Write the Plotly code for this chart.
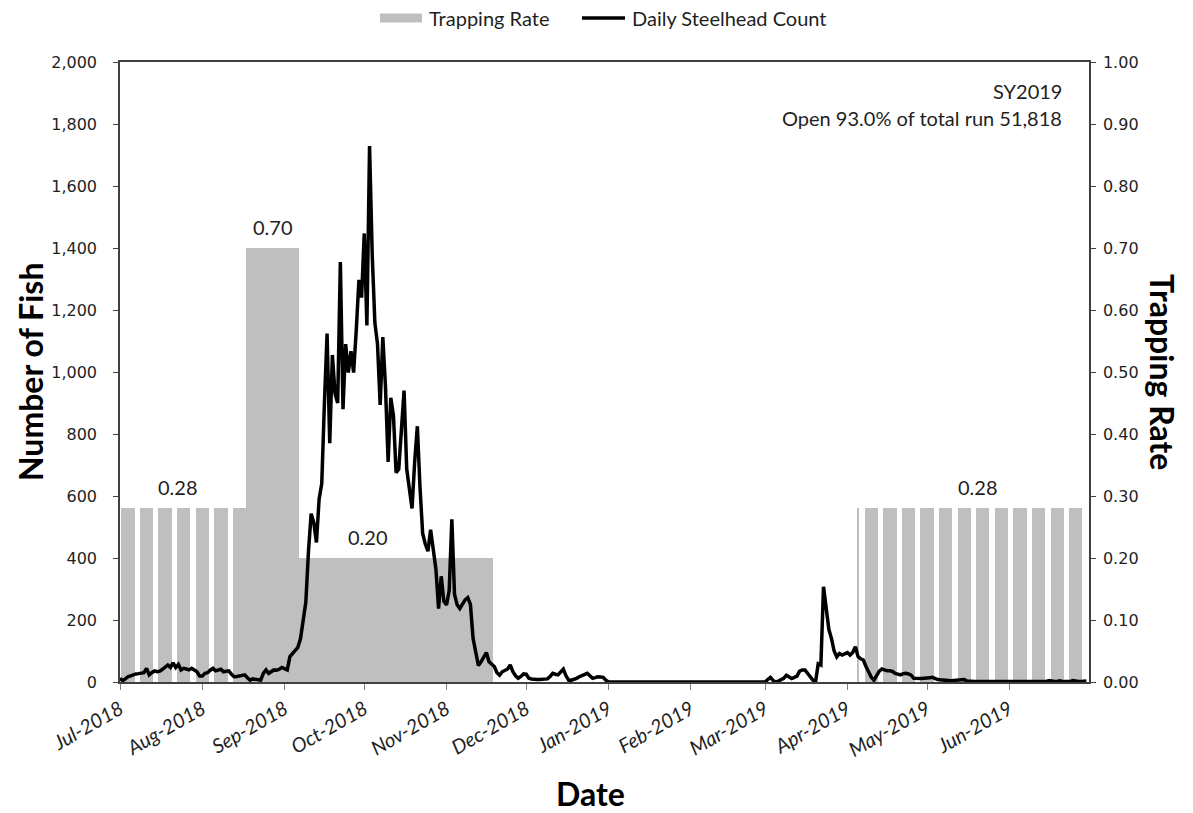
import pandas as pd
import plotly.graph_objects as go

# Daily steelhead counts, one value per day from 1 Jul 2018 to 30 Jun 2019
count_start = "2018-07-01"
count_jul_2018 = [12, 4, 10, 17, 20, 24, 26, 27, 28, 30, 44, 23, 30, 36, 33, 35, 41, 48, 55, 47,
                  62, 47, 57, 39, 44, 42, 39, 44, 40, 33, 19]
count_aug_2018 = [19, 28, 30, 38, 44, 36, 38, 41, 33, 35, 36, 25, 17, 18, 19, 21, 23, 14, 6, 10,
                  9, 7, 6, 28, 39, 28, 33, 39, 38, 41, 47]
count_sep_2018 = [42, 39, 82, 92, 103, 112, 140, 200, 258, 422, 543, 514, 450, 590, 640, 900, 1124,
                  770, 1055, 930, 900, 1355, 880, 1090, 998, 1067, 998, 1136, 1297, 1240]
count_oct_2018 = [1447, 1150, 1729, 1380, 1159, 1090, 894, 1113, 952, 710, 917, 860, 675, 687, 802,
                  940, 687, 629, 560, 710, 825, 629, 479, 445, 422, 491, 422, 364, 237, 341, 260]
count_nov_2018 = [249, 295, 525, 283, 249, 237, 249, 265, 272, 250, 140, 99, 53, 65, 80, 95, 65, 58,
                  50, 30, 22, 33, 38, 42, 55, 33, 20, 12, 18, 26]
count_dec_2018 = [25, 12, 10, 8, 8, 8, 8, 8, 10, 18, 28, 25, 23, 32, 41, 20, 6, 6, 8, 12, 17, 20, 24,
                  28, 20, 12, 14, 17, 16, 15, 6]
count_jan_2019 = [0, 0, 0, 0, 0, 0, 0, 0, 0, 0, 0, 0, 0, 0, 0, 0, 0, 0, 0, 0, 0, 0, 0, 0, 0, 0, 0, 0,
                  0, 0, 0]
count_feb_2019 = [0, 0, 0, 0, 0, 0, 0, 0, 0, 0, 0, 0, 0, 0, 0, 0, 0, 0, 0, 0, 0, 0, 0, 0, 0, 0, 0, 0]
count_mar_2019 = [0, 8, 15, 5, 0, 3, 8, 12, 22, 15, 11, 15, 19, 35, 39, 39, 30, 17, 6, 0, 59, 55, 307,
                  242, 170, 140, 100, 81, 92, 87, 92]
count_apr_2019 = [95, 87, 95, 114, 82, 75, 71, 50, 33, 15, 6, 23, 35, 42, 38, 36, 36, 34, 28, 26, 23,
                  27, 28, 26, 22, 12, 11, 10, 11, 12]
count_may_2019 = [12, 14, 15, 10, 8, 7, 6, 5, 4, 4, 5, 6, 5, 6, 8, 3, 2, 2, 2, 2, 2, 2, 2, 2, 2, 2, 2,
                  2, 2, 2, 2]
count_jun_2019 = [2, 2, 2, 2, 2, 2, 2, 2, 2, 2, 2, 2, 2, 2, 2, 5, 3, 2, 2, 4, 2, 2, 2, 2, 5, 3, 2, 2,
                  3, 3]

# Trap operating periods (inclusive) and the trapping rate applied in each
rate_start = ["2018-07-02", "2018-07-09", "2018-07-16", "2018-07-23", "2018-07-30", "2018-08-06",
              "2018-08-13", "2018-08-18", "2018-09-07",
              "2019-04-05", "2019-04-08", "2019-04-15", "2019-04-22", "2019-04-29", "2019-05-06",
              "2019-05-13", "2019-05-20", "2019-05-27", "2019-06-03", "2019-06-10", "2019-06-17",
              "2019-06-24"]
rate_end = ["2018-07-06", "2018-07-13", "2018-07-20", "2018-07-27", "2018-08-03", "2018-08-10",
            "2018-08-17", "2018-09-06", "2018-11-18",
            "2019-04-05", "2019-04-12", "2019-04-19", "2019-04-26", "2019-05-03", "2019-05-10",
            "2019-05-17", "2019-05-24", "2019-05-31", "2019-06-07", "2019-06-14", "2019-06-21",
            "2019-06-28"]
rate_value = [0.28, 0.28, 0.28, 0.28, 0.28, 0.28, 0.28, 0.70, 0.20,
              0.28, 0.28, 0.28, 0.28, 0.28, 0.28, 0.28, 0.28, 0.28, 0.28, 0.28, 0.28, 0.28]

month_labels = ["Jul-2018", "Aug-2018", "Sep-2018", "Oct-2018", "Nov-2018", "Dec-2018",
                "Jan-2019", "Feb-2019", "Mar-2019", "Apr-2019", "May-2019", "Jun-2019"]

season_label = "SY2019"
run_label = "Open 93.0% of total run 51,818"

# ---------------------------------------------------------------------------
daily_count = (count_jul_2018 + count_aug_2018 + count_sep_2018 + count_oct_2018 +
               count_nov_2018 + count_dec_2018 + count_jan_2019 + count_feb_2019 +
               count_mar_2019 + count_apr_2019 + count_may_2019 + count_jun_2019)
count_dates = pd.date_range(count_start, periods=len(daily_count), freq="D")

seg_start = pd.to_datetime(rate_start)
seg_end = pd.to_datetime(rate_end)
seg_mid = seg_start + (seg_end - seg_start) / 2
seg_width = [((e - s) + pd.Timedelta(days=1)).total_seconds() * 1000.0
             for s, e in zip(seg_start, seg_end)]

month_ticks = pd.date_range(count_start, periods=len(month_labels), freq="MS")

FONT = "Lato, 'Open Sans', sans-serif"
NUM_FONT = "'DejaVu Sans', Verdana, sans-serif"
TEXT = "#1f1f1f"
AXIS = "#404040"
BAR = "#bfbfbf"

# plot-area geometry in pixels (used to place the legend and titles)
W, H = 1193, 813
L, R, T, B = 120, 104, 62, 131
PW, PH = W - L - R, H - T - B


def px(xpix):
    return (xpix - L) / PW


def py(ypix):
    return (H - B - ypix) / PH


fig = go.Figure()

fig.add_trace(go.Bar(x=seg_mid, y=rate_value, width=seg_width, yaxis="y",
                     marker=dict(color=BAR, line=dict(width=0)),
                     name="Trapping Rate"))

fig.add_trace(go.Scatter(x=count_dates, y=daily_count, mode="lines", yaxis="y2",
                         name="Daily Steelhead Count",
                         line=dict(color="black", width=3.5)))

annotations = []
shapes = []

# rate labels above the bars
label_spots = [("2018-07-23 00:00", 0), ("2018-08-27 12:00", 7), ("2018-10-02 14:00", 8),
               ("2019-05-20 08:00", 14)]
for when, i in label_spots:
    annotations.append(dict(x=when, y=rate_value[i], xref="x", yref="y",
                            text=f"{rate_value[i]:.2f}", showarrow=False,
                            yanchor="middle", yshift=21,
                            font=dict(family=FONT, size=20, color=TEXT)))

# legend across the top
shapes.append(dict(type="rect", xref="paper", yref="paper",
                   x0=px(380), x1=px(422), y0=py(22.5), y1=py(13.5),
                   fillcolor=BAR, line=dict(width=0)))
shapes.append(dict(type="line", xref="paper", yref="paper",
                   x0=px(582), x1=px(625), y0=py(18), y1=py(18),
                   line=dict(color="black", width=3.5)))
annotations.append(dict(x=px(427), y=py(18), xref="paper", yref="paper", text="Trapping Rate",
                        showarrow=False, xanchor="left", yanchor="middle",
                        font=dict(family=FONT, size=20, color=TEXT)))
annotations.append(dict(x=px(630), y=py(18), xref="paper", yref="paper",
                        text="Daily Steelhead Count",
                        showarrow=False, xanchor="left", yanchor="middle",
                        font=dict(family=FONT, size=20, color=TEXT)))

# run summary, top right
annotations.append(dict(x=px(1064), y=py(91), xref="paper", yref="paper", text=season_label,
                        showarrow=False, xanchor="right", yanchor="middle",
                        font=dict(family=FONT, size=20, color=TEXT)))
annotations.append(dict(x=px(1064), y=py(118), xref="paper", yref="paper", text=run_label,
                        showarrow=False, xanchor="right", yanchor="middle",
                        font=dict(family=FONT, size=20, color=TEXT)))

# axis titles
annotations.append(dict(x=px(30), y=0.5, xref="paper", yref="paper", text="<b>Number of Fish</b>",
                        showarrow=False, textangle=-90, xanchor="center", yanchor="middle",
                        font=dict(family=FONT, size=32, color="black")))
annotations.append(dict(x=px(1163), y=0.5, xref="paper", yref="paper", text="<b>Trapping Rate</b>",
                        showarrow=False, textangle=90, xanchor="center", yanchor="middle",
                        font=dict(family=FONT, size=32, color="black")))
annotations.append(dict(x=px(590), y=py(793), xref="paper", yref="paper", text="<b>Date</b>",
                        showarrow=False, xanchor="center", yanchor="middle",
                        font=dict(family=FONT, size=32, color="black")))

fig.update_layout(
    width=W, height=H,
    margin=dict(l=L, r=R, t=T, b=B),
    paper_bgcolor="white", plot_bgcolor="white",
    showlegend=False,
    xaxis=dict(type="date", range=["2018-07-01", "2019-07-01"],
               tickvals=list(month_ticks), ticktext=month_labels, tickangle=-30,
               tickfont=dict(family=FONT, size=20, color=TEXT, style="italic"),
               ticks="outside", ticklen=6, tickcolor="#7f7f7f", tickwidth=1,
               showline=True, linecolor=AXIS, linewidth=1.5, mirror=True,
               showgrid=False, zeroline=False),
    yaxis=dict(range=[0, 1], side="right", tick0=0, dtick=0.1, tickformat=".2f",
               ticks="outside", ticklen=5, tickcolor=AXIS, ticklabelstandoff=4,
               showline=True, linecolor=AXIS, linewidth=1.5,
               showgrid=False, zeroline=False,
               tickfont=dict(family=NUM_FONT, size=16, color=TEXT)),
    yaxis2=dict(range=[0, 2000], side="left", overlaying="y", tick0=0, dtick=200,
                tickformat=",", ticks="outside", ticklen=5, tickcolor=AXIS,
                ticklabelstandoff=13,
                showline=True, linecolor=AXIS, linewidth=1.5,
                showgrid=False, zeroline=False,
                tickfont=dict(family=NUM_FONT, size=16, color=TEXT)),
    annotations=annotations,
    shapes=shapes,
    bargap=0,
)

fig.write_html("out.html")
